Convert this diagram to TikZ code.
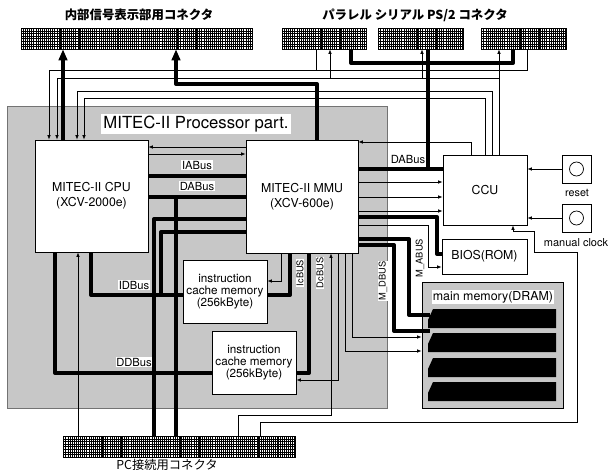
\documentclass[tikz,border=0pt]{standalone}
\usepackage{fontspec}
\setmainfont{TeX Gyre Heros}
\newfontfamily\jpfont{Noto Sans CJK JP}
\usetikzlibrary{arrows.meta}

\newcommand{\fsz}[2]{\fontsize{#1}{#2}\selectfont}

\tikzset{
  blk/.style={draw, fill=white, line width=0.7pt, inner sep=0pt, align=center},
  conn/.style={draw, line width=0.7pt, inner sep=0pt, minimum height=21,
    path picture={
      \draw[line width=0.35pt, xstep=2.1pt, ystep=2.6pt]
        (path picture bounding box.south west) grid (path picture bounding box.north east);
      \foreach \k in {1,...,12}
        \draw[line width=0.6pt] ([xshift=\k*19.5pt]path picture bounding box.south west)
          -- ([xshift=\k*19.5pt]path picture bounding box.north west);
    }},
  bus/.style={line width=4pt, line join=round},
  sig/.style={line width=0.75pt},
  arr/.style={-{Latex[length=4.5pt,width=3.6pt]}},
  bigarr/.style={-{Triangle[length=11pt,width=8.5pt]}},
  lbl/.style={fill=white, inner sep=0.6pt, font=\fsz{11.2}{12}},
  vlbl/.style={lbl, rotate=90, font=\fsz{9.3}{10}},
  jplbl/.style={font=\jpfont\bfseries\fsz{12.4}{14}},
}

\begin{document}
\begin{tikzpicture}[x=1pt, y=-1pt, font=\fsz{12.3}{15}]
  \useasboundingbox (0,0) rectangle (608,472);

  % Processor part
  \filldraw[fill=black!22, draw=black!55, line width=0.6pt] (7,106) rectangle (387,408);

  % Connectors
  \node[conn, minimum width=231] (connL) at (136.5,38.5) {};
  \node[conn, minimum width=84] (connA) at (324,38.5) {};
  \node[conn, minimum width=85] (connB) at (420.5,38.5) {};
  \node[conn, minimum width=85] (connC) at (523.5,38.5) {};
  \node[conn, minimum width=232] (connPC) at (179,446.5) {};
  \node[jplbl] (tInt) at (139,15) {内部信号表示部用コネクタ};
  \node[jplbl] (tPort) at (415,15) {パラレル シリアル PS/2 コネクタ};
  \node[font=\jpfont\fsz{12.3}{14}] (tPC) at (167,465) {PC接続用コネクタ};

  % Blocks
  \node[blk, minimum width=113, minimum height=112] (cpu) at (91.5,196) {MITEC-II CPU\\(XCV-2000e)};
  \node[blk, minimum width=112, minimum height=113] (mmu) at (302,196.5) {MITEC-II MMU\\(XCV-600e)};
  \node[blk, minimum width=84, minimum height=63, font=\fsz{11.7}{12.2}] (icache) at (225,291.5)
    {instruction\\cache memory\\(256kByte)};
  \node[blk, minimum width=84, minimum height=63, font=\fsz{11.7}{12.2}] (dcache) at (254,362.5)
    {instruction\\cache memory\\(256kByte)};
  \node[blk, minimum width=84, minimum height=70] (ccu) at (485,190) {CCU};
  \node[blk, minimum width=85, minimum height=35] (bios) at (484.5,256.5) {BIOS(ROM)};
  \node[blk, fill=black!22, minimum width=141, minimum height=126] (mem) at (492.5,345) {};
  \node[blk, minimum width=29, minimum height=28] (reset) at (576.5,169) {};
  \node[blk, minimum width=29, minimum height=28] (mclk) at (576.5,218) {};
  \draw[line width=0.7pt] (reset.center) circle (7);
  \draw[line width=0.7pt] (mclk.center) circle (7);
  \node[font=\fsz{10.8}{12}] (tReset) at (577,193) {reset};
  \node[font=\fsz{11}{12}] (tClk) at (576,243) {manual clock};

  % DRAM banks
  \foreach \t in {309,333,358,382}
    \fill (428,\t+19) -- (428,\t+11) -- (433,\t) -- (556,\t) -- (556,\t+19) -- cycle;
  \coordinate (bankA) at (430,315);
  \coordinate (bankB) at (430,331);

  % CPU <-> MMU
  \draw[sig, arr] (mmu.west |- 0,147) -- (cpu.east |- 0,147);
  \draw[sig, arr] (cpu.east |- 0,154) -- (mmu.west |- 0,154);
  \draw[bus] (cpu.east |- 0,176) -- (mmu.west |- 0,176);
  \draw[bus] (cpu.east |- 0,197) -- (mmu.west |- 0,197);
  \draw[bus] (176,197) -- (176,0 |- connPC.north);
  \draw[bus] (mmu.west |- 0,219) -- (154,219) -- (154,0 |- connPC.north);
  \draw[bus] (mmu.west |- 0,232) -- (161,232) -- (161,295);
  \draw[bus] (91,0 |- cpu.south) -- (91,295) -- (icache.west |- 0,295);
  \draw[bus] (55,0 |- cpu.south) -- (55,373) -- (dcache.west |- 0,373);
  \draw[sig, arr] (78,0 |- connPC.north) -- (78,0 |- cpu.south);

  % MMU bottom
  \draw[sig, arr] (281,0 |- mmu.south) -- (281,281) -- (icache.east |- 0,281);
  \draw[bus] (290,0 |- mmu.south) -- (290,295) -- (icache.east |- 0,295);
  \draw[bus] (309,0 |- mmu.south) -- (309,373) -- (dcache.east |- 0,373);
  \draw[sig, arr] (338,0 |- mmu.south) -- (338,380) -- (dcache.east |- 0,380);
  \draw[sig, arr] (238,0 |- connPC.north) -- (238,415) -- (331,415) -- (331,0 |- mmu.south);
  \draw[sig, arr] (345,0 |- mmu.south) -- (345,351) -- (mem.west |- 0,351);
  \draw[sig, arr] (352,0 |- mmu.south) -- (352,337) -- (mem.west |- 0,337);

  % MMU right
  \draw[bus] (mmu.east |- 0,169) -- (ccu.west |- 0,169);
  \foreach \yy in {182,197,211}
    \draw[sig, arr] (mmu.east |- 0,\yy) -- (ccu.west |- 0,\yy);
  \draw[bus] (mmu.east |- 0,217) -- (437,217) -- (437,254) -- (bios.west |- 0,254);
  \draw[sig, arr] (mmu.east |- 0,225) -- (428,225) -- (428,267) -- (bios.west |- 0,267);
  \draw[bus] (mmu.east |- 0,239) -- (409,239) -- (409,315) -- (bankA);
  \draw[bus] (mmu.east |- 0,245) -- (394,245) -- (394,331) -- (bankB);

  % Top connections
  \draw[bus, bigarr] (63,0 |- cpu.north) -- (63,0 |- connL.south);
  \draw[bus, bigarr] (317,0 |- mmu.north) -- (317,84) -- (176,84) -- (176,0 |- connL.south);
  \draw[sig] (316,0 |- connA.south) -- (316,70);
  \draw[sig, arr] (527,0 |- connC.south) -- (527,70) -- (49,70) -- (49,0 |- cpu.north);
  \draw[sig, arr] (499,0 |- ccu.north) -- (499,0 |- connC.south);
  \draw[sig, arr] (499,78) -- (57,78) -- (57,0 |- cpu.north);
  \draw[sig, arr] (330,78) -- (330,0 |- connA.south);
  \draw[sig, arr] (422,78) -- (422,0 |- connB.south);
  \draw[sig, arr] (492,0 |- ccu.north) -- (492,91) -- (77,91) -- (77,0 |- cpu.north);
  \draw[sig, arr] (485,0 |- ccu.north) -- (485,98) -- (84,98) -- (84,0 |- cpu.north);
  \draw[sig, arr] (471,0 |- ccu.north) -- (471,142) -- (mmu.east |- 0,142);
  \draw[bus] (351,0 |- connA.south) -- (351,63) -- (513,63) -- (513,0 |- connC.south);
  \draw[bus] (428,0 |- connB.south) -- (428,169);

  % CCU inputs
  \draw[sig, arr] (reset.west) -- (ccu.east |- reset.west);
  \draw[sig, arr] (mclk.west) -- (ccu.east |- mclk.west);
  \draw[sig, arr] (260,0 |- connPC.north) -- (260,422) -- (577,422) -- (577,252)
    -- (534,252) -- (534,231) -- (513,231) -- (513,0 |- ccu.south);

  % Labels
  \node[fill=white, inner sep=2pt, font=\fsz{16.7}{18}] (tProc) at (196,124) {MITEC-II Processor part.};
  \node[fill=white, inner sep=1pt, font=\fsz{12.4}{14}] (tMem) at (493,297) {main memory(DRAM)};
  \node[lbl] (tIA) at (197,165) {IABus};
  \node[lbl] (tDA) at (197,186) {DABus};
  \node[lbl] (tID) at (134,285) {IDBus};
  \node[lbl] (tDD) at (134,362) {DDBus};
  \node[lbl] (tDA2) at (408,159) {DABus};
  \node[vlbl] (tIc) at (300,273) {IcBUS};
  \node[vlbl] (tDc) at (320,273) {DcBUS};
  \node[vlbl] (tMD) at (383,281) {M\_DBUS};
  \node[vlbl] (tMA) at (420,258) {M\_ABUS};
\end{tikzpicture}
\end{document}
